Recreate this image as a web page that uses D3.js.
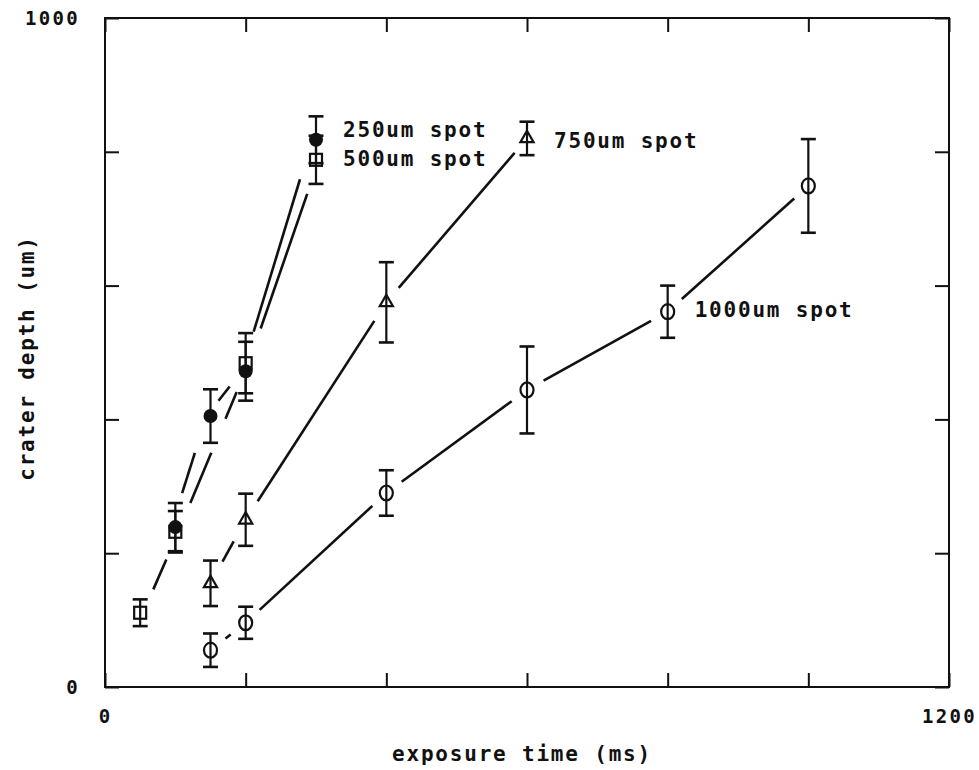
<!DOCTYPE html>
<html>
<head>
<meta charset="utf-8">
<script src="https://cdn.jsdelivr.net/npm/d3@7"></script>
<style>
  html, body { margin: 0; padding: 0; background: #fff; }
  svg { display: block; }
  text { font-family: "DejaVu Sans Mono", "Liberation Mono", monospace; font-weight: bold; fill: #111; }
</style>
</head>
<body>
<svg id="chart" width="979" height="770"></svg>
<script>
// ---- data ----
const xTicks = [0, 200, 400, 600, 800, 1000, 1200];
const yTicks = [0, 200, 400, 600, 800, 1000];
const xTickLabels = [0, 1200];
const yTickLabels = [0, 1000];

const seriesNames = ["250um spot", "500um spot", "750um spot", "1000um spot"];
const seriesSymbols = ["filledCircle", "square", "triangle", "circle"];
const labelAtIndex = [3, 3, 3, 4];

const s250x = [100, 150, 200, 300];
const s250y = [239, 405, 472, 818];
const s250e = [36, 40, 44, 35];

const s500x = [50, 100, 200, 300];
const s500y = [111, 232, 484, 788];
const s500e = [20, 31, 45, 36];

const s750x = [150, 200, 400, 600];
const s750y = [155, 250, 575, 820];
const s750e = [34, 39, 60, 25];

const s1000x = [150, 200, 400, 600, 800, 1000];
const s1000y = [55, 96, 290, 444, 561, 749];
const s1000e = [25, 24, 34, 65, 39, 70];

const xLabel = "exposure time (ms)";
const yLabel = "crater depth (um)";

// ---- build ----
const allX = [s250x, s500x, s750x, s1000x];
const allY = [s250y, s500y, s750y, s1000y];
const allE = [s250e, s500e, s750e, s1000e];
const series = seriesNames.map((name, i) => ({
  name, symbol: seriesSymbols[i], labelAt: labelAtIndex[i],
  points: allX[i].map((x, j) => ({ x, y: allY[i][j], e: allE[i][j] }))
}));

const svg = d3.select("#chart");
const L = 105, R = 949, T = 18, B = 687;
const x = d3.scaleLinear().domain([0, 1200]).range([L, R]);
const y = d3.scaleLinear().domain([0, 1000]).range([B, T]);

const tickLen = 14;
const fmtX = d => xTickLabels.includes(d) ? String(d) : "";
const fmtY = d => yTickLabels.includes(d) ? String(d) : "";

function styleAxis(g) {
  g.select(".domain").remove();
  g.selectAll(".tick line").attr("stroke", "#111").attr("stroke-width", 2);
  g.selectAll(".tick text").attr("font-size", 19).attr("letter-spacing", "2.3px")
    .attr("font-family", "DejaVu Sans Mono, monospace").attr("font-weight", "bold").attr("fill", "#111");
}

svg.append("g").attr("transform", `translate(0,${B})`)
  .call(d3.axisBottom(x).tickValues(xTicks).tickSizeInner(-tickLen).tickSizeOuter(0).tickPadding(23).tickFormat(fmtX))
  .call(styleAxis);
svg.append("g").attr("transform", `translate(0,${T})`)
  .call(d3.axisTop(x).tickValues(xTicks).tickSizeInner(-tickLen).tickSizeOuter(0).tickFormat(() => ""))
  .call(styleAxis);
svg.append("g").attr("transform", `translate(${L},0)`)
  .call(d3.axisLeft(y).tickValues(yTicks).tickSizeInner(-tickLen).tickSizeOuter(0).tickPadding(25).tickFormat(fmtY))
  .call(styleAxis);
svg.append("g").attr("transform", `translate(${R},0)`)
  .call(d3.axisRight(y).tickValues(yTicks).tickSizeInner(-tickLen).tickSizeOuter(0).tickFormat(() => ""))
  .call(styleAxis);

// frame
svg.append("rect").attr("x", L).attr("y", T).attr("width", R - L).attr("height", B - T)
  .attr("fill", "none").attr("stroke", "#111").attr("stroke-width", 2);

// axis titles
svg.append("text").attr("x", 522).attr("y", 761).attr("text-anchor", "middle")
  .attr("font-size", 21).attr("letter-spacing", "1.8px").text(xLabel);
svg.append("text").attr("transform", "translate(34,358) rotate(-90)").attr("text-anchor", "middle")
  .attr("font-size", 21).attr("letter-spacing", "1.8px").text(yLabel);

// keep-out boxes around every error bar
const padX = 12, padY = 10, endGap = 19;
const boxes = [];
series.forEach(s => s.points.forEach(p => {
  boxes.push({ x0: x(p.x) - padX, x1: x(p.x) + padX, y0: y(p.y + p.e) - padY, y1: y(p.y - p.e) + padY });
}));

function clipInterval(x1, y1, x2, y2, b) {
  let t0 = 0, t1 = 1;
  const dx = x2 - x1, dy = y2 - y1;
  const pq = [[-dx, x1 - b.x0], [dx, b.x1 - x1], [-dy, y1 - b.y0], [dy, b.y1 - y1]];
  for (const [p, q] of pq) {
    if (p === 0) { if (q < 0) return null; }
    else {
      const r = q / p;
      if (p < 0) { if (r > t1) return null; if (r > t0) t0 = r; }
      else { if (r < t0) return null; if (r < t1) t1 = r; }
    }
  }
  return [t0, t1];
}

// small horizontal shift so the two steep, nearly coincident lines stay apart
const lineShift = [-4, 3, 0, 0];
const segs = [];
series.forEach((s, si) => {
  for (let i = 0; i < s.points.length - 1; i++) {
    const a = s.points[i], b = s.points[i + 1];
    const x1 = x(a.x), y1 = y(a.y), x2 = x(b.x), y2 = y(b.y);
    const len = Math.hypot(x2 - x1, y2 - y1);
    const cuts = boxes.map(bx => clipInterval(x1, y1, x2, y2, bx)).filter(Boolean);
    cuts.push([0, endGap / len], [1 - endGap / len, 1]);
    cuts.sort((u, v) => u[0] - v[0]);
    let t = 0;
    const pieces = [];
    cuts.forEach(([c0, c1]) => {
      if (c0 > t) pieces.push([t, c0]);
      t = Math.max(t, c1);
    });
    if (t < 1) pieces.push([t, 1]);
    pieces.forEach(([u, v]) => {
      if (len * (v - u) > 3) segs.push({
        x1: x1 + (x2 - x1) * u + lineShift[si], y1: y1 + (y2 - y1) * u,
        x2: x1 + (x2 - x1) * v + lineShift[si], y2: y1 + (y2 - y1) * v
      });
    });
  }
});
svg.append("g").selectAll("line").data(segs).join("line")
  .attr("x1", d => d.x1).attr("y1", d => d.y1).attr("x2", d => d.x2).attr("y2", d => d.y2)
  .attr("stroke", "#111").attr("stroke-width", 2.6).attr("stroke-linecap", "butt");

// error bars
const capW = 7.5;
series.forEach(s => {
  const g = svg.append("g");
  s.points.forEach(p => {
    const cx = x(p.x), yt = y(p.y + p.e), yb = y(p.y - p.e);
    g.append("line").attr("x1", cx).attr("x2", cx).attr("y1", yt).attr("y2", yb).attr("stroke", "#111").attr("stroke-width", 2.2);
    g.append("line").attr("x1", cx - capW).attr("x2", cx + capW).attr("y1", yt).attr("y2", yt).attr("stroke", "#111").attr("stroke-width", 2.6);
    g.append("line").attr("x1", cx - capW).attr("x2", cx + capW).attr("y1", yb).attr("y2", yb).attr("stroke", "#111").attr("stroke-width", 2.6);
  });
});

// markers
series.forEach(s => {
  const g = svg.append("g");
  s.points.forEach(p => {
    const cx = x(p.x), cy = y(p.y);
    if (s.symbol === "filledCircle") {
      g.append("circle").attr("cx", cx).attr("cy", cy).attr("r", 7).attr("fill", "#111");
    } else if (s.symbol === "circle") {
      g.append("ellipse").attr("cx", cx).attr("cy", cy).attr("rx", 6.5).attr("ry", 7.5)
        .attr("fill", "none").attr("stroke", "#111").attr("stroke-width", 2.2);
    } else if (s.symbol === "square") {
      g.append("rect").attr("x", cx - 6).attr("y", cy - 6).attr("width", 12).attr("height", 12)
        .attr("fill", "none").attr("stroke", "#111").attr("stroke-width", 2.2);
    } else if (s.symbol === "triangle") {
      g.append("path").attr("d", d3.symbol(d3.symbolTriangle, 75)())
        .attr("transform", `translate(${cx},${cy})`)
        .attr("fill", "none").attr("stroke", "#111").attr("stroke-width", 2.2);
    }
  });
});

// series labels
const labelDy = [-10, -1, 2, -2];
series.forEach((s, i) => {
  const p = s.points[s.labelAt];
  svg.append("text").attr("x", x(p.x) + 27).attr("y", y(p.y) + labelDy[i])
    .attr("dy", "0.36em").attr("font-size", 21).attr("letter-spacing", "1.8px").text(s.name);
});
</script>
</body>
</html>
